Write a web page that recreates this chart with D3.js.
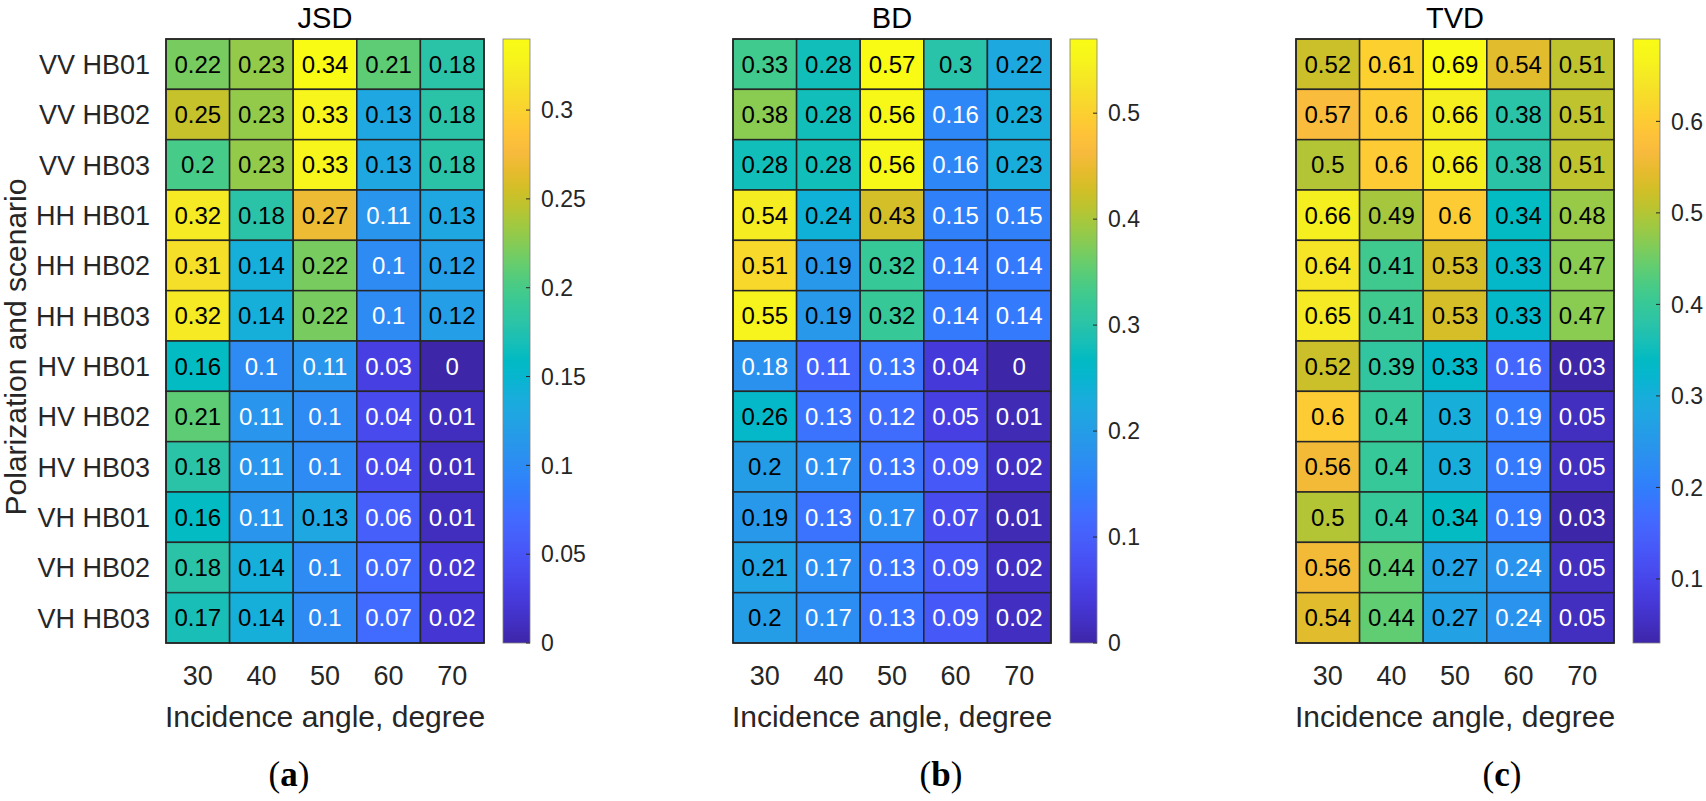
<!DOCTYPE html>
<html>
<head>
<meta charset="utf-8">
<script src="https://cdn.jsdelivr.net/npm/d3@7"></script>
<style>
  body { margin: 0; background: #fff; }
</style>
</head>
<body>
<div id="chart"></div>
<script>
// rows / columns shared by all three heatmaps
const scenarios = ["VV HB01", "VV HB02", "VV HB03", "HH HB01", "HH HB02", "HH HB03",
                   "HV HB01", "HV HB02", "HV HB03", "VH HB01", "VH HB02", "VH HB03"];
const angles = [30, 40, 50, 60, 70];

const jsdValues = [
  [0.22, 0.23, 0.34, 0.21, 0.18],
  [0.25, 0.23, 0.33, 0.13, 0.18],
  [0.2, 0.23, 0.33, 0.13, 0.18],
  [0.32, 0.18, 0.27, 0.11, 0.13],
  [0.31, 0.14, 0.22, 0.1, 0.12],
  [0.32, 0.14, 0.22, 0.1, 0.12],
  [0.16, 0.1, 0.11, 0.03, 0],
  [0.21, 0.11, 0.1, 0.04, 0.01],
  [0.18, 0.11, 0.1, 0.04, 0.01],
  [0.16, 0.11, 0.13, 0.06, 0.01],
  [0.18, 0.14, 0.1, 0.07, 0.02],
  [0.17, 0.14, 0.1, 0.07, 0.02]
];
const bdValues = [
  [0.33, 0.28, 0.57, 0.3, 0.22],
  [0.38, 0.28, 0.56, 0.16, 0.23],
  [0.28, 0.28, 0.56, 0.16, 0.23],
  [0.54, 0.24, 0.43, 0.15, 0.15],
  [0.51, 0.19, 0.32, 0.14, 0.14],
  [0.55, 0.19, 0.32, 0.14, 0.14],
  [0.18, 0.11, 0.13, 0.04, 0],
  [0.26, 0.13, 0.12, 0.05, 0.01],
  [0.2, 0.17, 0.13, 0.09, 0.02],
  [0.19, 0.13, 0.17, 0.07, 0.01],
  [0.21, 0.17, 0.13, 0.09, 0.02],
  [0.2, 0.17, 0.13, 0.09, 0.02]
];
const tvdValues = [
  [0.52, 0.61, 0.69, 0.54, 0.51],
  [0.57, 0.6, 0.66, 0.38, 0.51],
  [0.5, 0.6, 0.66, 0.38, 0.51],
  [0.66, 0.49, 0.6, 0.34, 0.48],
  [0.64, 0.41, 0.53, 0.33, 0.47],
  [0.65, 0.41, 0.53, 0.33, 0.47],
  [0.52, 0.39, 0.33, 0.16, 0.03],
  [0.6, 0.4, 0.3, 0.19, 0.05],
  [0.56, 0.4, 0.3, 0.19, 0.05],
  [0.5, 0.4, 0.34, 0.19, 0.03],
  [0.56, 0.44, 0.27, 0.24, 0.05],
  [0.54, 0.44, 0.27, 0.24, 0.05]
];

const jsdTicks = [0, 0.05, 0.1, 0.15, 0.2, 0.25, 0.3];
const bdTicks = [0, 0.1, 0.2, 0.3, 0.4, 0.5];
const tvdTicks = [0.1, 0.2, 0.3, 0.4, 0.5, 0.6];

// MATLAB parula (R2014b), every other entry of the 64-colour map
const parula = [
  [0.2422, 0.1504, 0.6603], [0.2578, 0.1818, 0.7511], [0.2706, 0.2147, 0.8364],
  [0.2783, 0.2559, 0.8991], [0.2813, 0.3006, 0.9414], [0.2795, 0.3447, 0.9717],
  [0.2699, 0.3892, 0.9906], [0.2440, 0.4358, 0.9988], [0.1963, 0.4847, 0.9892],
  [0.1786, 0.5289, 0.9682], [0.1687, 0.5703, 0.9359], [0.1460, 0.6091, 0.9079],
  [0.1248, 0.6459, 0.8883], [0.0952, 0.6798, 0.8598], [0.0297, 0.7082, 0.8163],
  [0.0067, 0.7312, 0.7660], [0.0964, 0.7500, 0.7120], [0.1717, 0.7670, 0.6554],
  [0.2161, 0.7843, 0.5923], [0.2906, 0.7973, 0.5188], [0.3909, 0.8029, 0.4354],
  [0.5044, 0.7993, 0.3480], [0.6174, 0.7876, 0.2612], [0.7242, 0.7698, 0.1910],
  [0.8203, 0.7498, 0.1535], [0.9035, 0.7330, 0.1774], [0.9728, 0.7298, 0.2394],
  [0.9970, 0.7659, 0.2199], [0.9892, 0.8136, 0.1885], [0.9676, 0.8639, 0.1643],
  [0.9597, 0.9135, 0.1423], [0.9691, 0.9606, 0.1064], [0.9769, 0.9839, 0.0805]
].map(c => d3.rgb(c[0] * 255, c[1] * 255, c[2] * 255));
const parulaInterp = d3.piecewise(d3.interpolateRgb, parula);

const width = 1706;
const height = 801;
const marginTop = 39;
const mapW = 318;
const mapH = 604;
const cbW = 27;

const panels = [
  { title: "JSD", values: jsdValues, ticks: jsdTicks, x0: 166, cap: "a", capX: 289, yLabels: true },
  { title: "BD", values: bdValues, ticks: bdTicks, x0: 733, cap: "b", capX: 941, yLabels: false },
  { title: "TVD", values: tvdValues, ticks: tvdTicks, x0: 1296, cap: "c", capX: 1502, yLabels: false }
];

const svg = d3.select("#chart").append("svg")
  .attr("width", width)
  .attr("height", height)
  .attr("font-family", "'Liberation Sans', Arial, sans-serif");

const defs = svg.append("defs");

const x = d3.scaleBand().domain(angles).range([0, mapW]);
const y = d3.scaleBand().domain(scenarios).range([0, mapH]);

panels.forEach((p, pi) => {
  const flat = p.values.flat();
  const color = d3.scaleSequential(parulaInterp).domain(d3.extent(flat));

  const g = svg.append("g").attr("transform", `translate(${p.x0},${marginTop})`);

  const cells = [];
  p.values.forEach((row, ri) => row.forEach((v, ci) => {
    cells.push({ row: scenarios[ri], col: angles[ci], v: v });
  }));

  // cells
  g.selectAll("rect.cell")
    .data(cells)
    .join("rect")
    .attr("class", "cell")
    .attr("x", d => x(d.col))
    .attr("y", d => y(d.row))
    .attr("width", x.bandwidth())
    .attr("height", y.bandwidth())
    .attr("fill", d => color(d.v))
    .attr("stroke", "#262626")
    .attr("stroke-width", 1.5);

  // cell labels, black or white by luminance like MATLAB
  g.selectAll("text.val")
    .data(cells)
    .join("text")
    .attr("class", "val")
    .attr("x", d => x(d.col) + x.bandwidth() / 2)
    .attr("y", d => y(d.row) + y.bandwidth() / 2)
    .attr("dy", "0.36em")
    .attr("text-anchor", "middle")
    .attr("font-size", "24px")
    .attr("fill", d => {
      const c = d3.rgb(color(d.v));
      const lum = (0.2989 * c.r + 0.587 * c.g + 0.114 * c.b) / 255;
      return lum > 0.5 ? "#000" : "#fff";
    })
    .text(d => d.v);

  // outer frame
  g.append("rect")
    .attr("width", mapW)
    .attr("height", mapH)
    .attr("fill", "none")
    .attr("stroke", "#262626")
    .attr("stroke-width", 1.5);

  // title
  g.append("text")
    .attr("x", mapW / 2)
    .attr("y", -11)
    .attr("text-anchor", "middle")
    .attr("font-size", "29px")
    .attr("fill", "#000")
    .text(p.title);

  // x tick labels
  g.selectAll("text.xt")
    .data(angles)
    .join("text")
    .attr("class", "xt")
    .attr("x", d => x(d) + x.bandwidth() / 2)
    .attr("y", mapH + 42)
    .attr("text-anchor", "middle")
    .attr("font-size", "27px")
    .attr("fill", "#262626")
    .text(d => d);

  // x label
  g.append("text")
    .attr("x", mapW / 2)
    .attr("y", mapH + 84)
    .attr("text-anchor", "middle")
    .attr("font-size", "30px")
    .attr("fill", "#262626")
    .text("Incidence angle, degree");

  if (p.yLabels) {
    g.selectAll("text.yt")
      .data(scenarios)
      .join("text")
      .attr("class", "yt")
      .attr("x", -16)
      .attr("y", d => y(d) + y.bandwidth() / 2)
      .attr("dy", "0.36em")
      .attr("text-anchor", "end")
      .attr("font-size", "27px")
      .attr("fill", "#262626")
      .text(d => d);

    g.append("text")
      .attr("transform", `translate(${-p.x0 + 26},${mapH / 2 + 6}) rotate(-90)`)
      .attr("text-anchor", "middle")
      .attr("font-size", "30px")
      .attr("fill", "#262626")
      .text("Polarization and scenario");
  }

  // colorbar
  const gradId = "grad" + pi;
  const grad = defs.append("linearGradient")
    .attr("id", gradId)
    .attr("x1", "0").attr("y1", "1").attr("x2", "0").attr("y2", "0");
  d3.range(0, 1.0001, 1 / 64).forEach(t => {
    grad.append("stop").attr("offset", t).attr("stop-color", parulaInterp(t));
  });

  const cb = g.append("g").attr("transform", `translate(${mapW + 19},0)`);
  cb.append("rect")
    .attr("width", cbW)
    .attr("height", mapH)
    .attr("fill", `url(#${gradId})`)
    .attr("stroke", "#7f7f7f")
    .attr("stroke-width", 0.8);

  const cbScale = d3.scaleLinear().domain(color.domain()).range([mapH, 0]);
  cb.selectAll("line.cbt")
    .data(p.ticks)
    .join("line")
    .attr("class", "cbt")
    .attr("x1", cbW - 4)
    .attr("x2", cbW)
    .attr("y1", d => cbScale(d))
    .attr("y2", d => cbScale(d))
    .attr("stroke", "#262626")
    .attr("stroke-width", 1);
  cb.selectAll("text.cbl")
    .data(p.ticks)
    .join("text")
    .attr("class", "cbl")
    .attr("x", cbW + 11)
    .attr("y", d => cbScale(d))
    .attr("dy", "0.36em")
    .attr("font-size", "23px")
    .attr("fill", "#262626")
    .text(d => d);

  // sub-figure caption
  const cap = svg.append("text")
    .attr("x", p.capX)
    .attr("y", 786)
    .attr("text-anchor", "middle")
    .attr("font-family", "'Liberation Serif', 'DejaVu Serif', serif")
    .attr("font-size", "35px")
    .attr("fill", "#000");
  cap.append("tspan").text("(");
  cap.append("tspan").attr("font-weight", "bold").text(p.cap);
  cap.append("tspan").text(")");
});
</script>
</body>
</html>
